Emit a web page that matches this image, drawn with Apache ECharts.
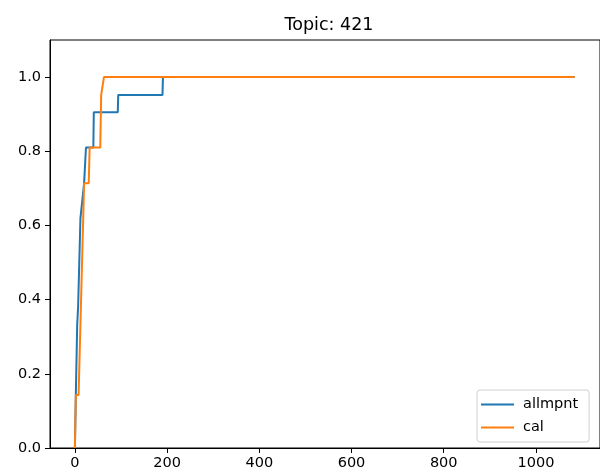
<!DOCTYPE html>
<html>
<head>
<meta charset="utf-8">
<script src="https://cdn.jsdelivr.net/npm/echarts@6/dist/echarts.min.js"></script>
<style>html,body{margin:0;padding:0;background:#fff}#c{width:600px;height:474px}</style>
</head>
<body>
<div id="c"></div>
<script>
const titleText = "Topic: 421";
const seriesNames = ["allmpnt", "cal"];
const allmpntX = [0, 2, 5, 7, 12, 14, 20, 24, 40, 41, 93, 94, 190, 191, 1084];
const allmpntY = [0, 0.143, 0.333, 0.381, 0.619, 0.619, 0.714, 0.81, 0.81, 0.905, 0.905, 0.952, 0.952, 1.0, 1.0];
const calX = [0, 2, 8, 20, 30, 32, 55, 57, 61, 63, 1084];
const calY = [0, 0.143, 0.143, 0.714, 0.714, 0.81, 0.81, 0.952, 0.952, 1.0, 1.0];
const xTicks = [0, 200, 400, 600, 800, 1000];
const yTicks = [0, 0.2, 0.4, 0.6, 0.8, 1.0];

const font = "DejaVu Sans";
const chart = echarts.init(document.getElementById('c'), null, {renderer: 'canvas'});
const pairs = (xs, ys) => xs.map((x, i) => [x, ys[i]]);
chart.setOption({
  animation: false,
  backgroundColor: '#fff',
  title: {text: titleText, left: 324, top: 11, textAlign: 'center',
    textStyle: {fontFamily: font, fontSize: 17.5, fontWeight: 'normal', color: '#000'}},
  grid: {left: 50, top: 40, width: 552, height: 408, show: true, borderColor: '#000', borderWidth: 1, backgroundColor: 'transparent'},
  legend: {
    orient: 'vertical', left: 477, top: 390,
    data: seriesNames,
    icon: 'rect', itemWidth: 33, itemHeight: 2, itemGap: 8,
    padding: [7, 11, 7, 4],
    borderColor: '#d0d0d0', borderWidth: 1, borderRadius: 3, backgroundColor: '#fff',
    textStyle: {fontFamily: font, fontSize: 14.5, color: '#000', lineHeight: 15, padding: [0, 0, 0, 4]}
  },
  xAxis: {
    type: 'value', min: -54, max: 1139,
    axisLine: {show: true, onZero: false, lineStyle: {color: '#000', width: 1}},
    axisTick: {show: true, length: 5, customValues: xTicks, lineStyle: {color: '#000'}},
    axisLabel: {customValues: xTicks, margin: 8, fontFamily: font, fontSize: 14.5, color: '#000',
      formatter: v => String(v)},
    splitLine: {show: false}
  },
  yAxis: {
    type: 'value', min: 0, max: 1.1,
    axisLine: {show: true, onZero: false, lineStyle: {color: '#000', width: 1}},
    axisTick: {show: true, length: 5, customValues: yTicks, lineStyle: {color: '#000'}},
    axisLabel: {customValues: yTicks, margin: 9, fontFamily: font, fontSize: 14.5, color: '#000',
      formatter: v => v.toFixed(1)},
    splitLine: {show: false}
  },
  series: [
    {name: seriesNames[0], type: 'line', data: pairs(allmpntX, allmpntY), showSymbol: false,
      lineStyle: {color: '#1f77b4', width: 2}, itemStyle: {color: '#1f77b4'}, z: 2},
    {name: seriesNames[1], type: 'line', data: pairs(calX, calY), showSymbol: false,
      lineStyle: {color: '#ff7f0e', width: 2}, itemStyle: {color: '#ff7f0e'}, z: 3}
  ]
});
</script>
</body>
</html>
